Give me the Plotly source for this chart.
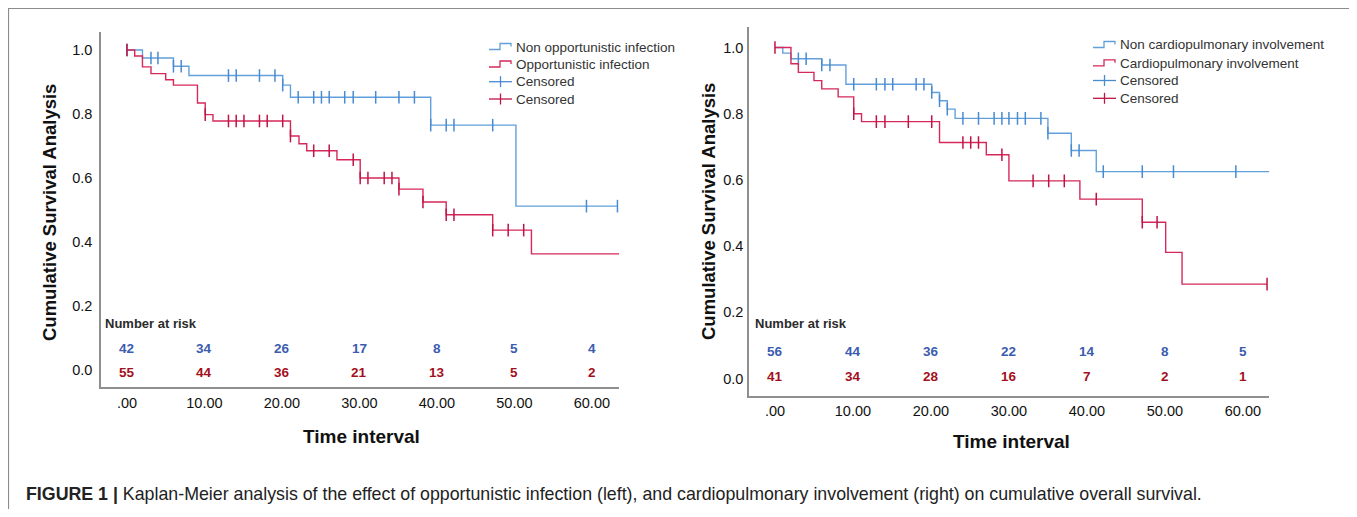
import plotly.graph_objects as go

# The page body adds an 8px offset; the figure is sized to fit the rest of the 1357x517 window.
OFF = 8
W, H = 1357 - OFF, 517 - 2 * OFF

# ---------------- data ----------------
tick_vals = [0, 10, 20, 30, 40, 50, 60]
tick_text = [".00", "10.00", "20.00", "30.00", "40.00", "50.00", "60.00"]
y_tick_vals = [0.0, 0.2, 0.4, 0.6, 0.8, 1.0]
y_tick_text = ["0.0", "0.2", "0.4", "0.6", "0.8", "1.0"]

# Left panel: opportunistic infection
left_non_t = [0, 2.0, 6.0, 8.0, 20.1, 21.1, 39.2, 50.2, 63.3]
left_non_s = [1.0, 0.975, 0.949, 0.92, 0.89, 0.852, 0.765, 0.512, 0.512]
left_non_cens = [0, 3.1, 4.0, 6.0, 7.0, 13.1, 14.1, 17.1, 19.1, 20.1, 22.1, 24.1, 25.1,
                 26.1, 28.1, 29.2, 32.1, 35.1, 37.1, 39.2, 41.2, 42.2, 47.2, 59.3, 63.3]

left_oi_t = [0, 1.0, 2.0, 3.1, 5.0, 6.0, 9.1, 10.1, 11.1, 21.1, 22.2, 23.2, 27.1, 30.1,
             35.1, 38.2, 41.2, 47.2, 52.2, 63.5]
left_oi_s = [1.0, 0.981, 0.947, 0.926, 0.907, 0.89, 0.834, 0.798, 0.778, 0.731, 0.707,
             0.685, 0.657, 0.60, 0.565, 0.525, 0.485, 0.437, 0.363, 0.363]
left_oi_cens = [0, 10.1, 13.1, 14.1, 15.1, 17.1, 18.1, 20.1, 21.1, 24.1, 26.1, 29.2, 30.1,
                31.1, 33.2, 34.2, 35.1, 38.2, 41.2, 42.2, 47.2, 49.2, 51.2]

left_risk_non = [42, 34, 26, 17, 8, 5, 4]
left_risk_oi = [55, 44, 36, 21, 13, 5, 2]

# Right panel: cardiopulmonary involvement
right_non_t = [0, 1.0, 2.05, 6.0, 9.1, 20.1, 21.1, 22.1, 23.1, 35.0, 38.0, 41.2, 63.4]
right_non_s = [1.0, 0.983, 0.966, 0.947, 0.889, 0.864, 0.839, 0.814, 0.786, 0.741, 0.689,
               0.625, 0.625]
right_non_cens = [3.0, 4.0, 6.0, 7.05, 10.1, 13.0, 14.1, 15.1, 18.1, 19.1, 20.1, 21.1, 22.1,
                  24.1, 26.1, 28.1, 29.1, 30.0, 31.1, 32.1, 34.1, 35.0, 38.0, 39.0, 42.1,
                  47.1, 51.1, 59.1]

right_cp_t = [0, 2.05, 3.0, 5.0, 6.0, 8.1, 10.1, 11.1, 21.1, 27.1, 30.0, 39.1, 47.1, 50.1,
              52.2, 63.1]
right_cp_s = [1.0, 0.951, 0.925, 0.90, 0.875, 0.851, 0.80, 0.776, 0.713, 0.676, 0.597,
              0.542, 0.472, 0.381, 0.285, 0.285]
right_cp_cens = [0, 10.1, 13.0, 14.1, 17.1, 20.1, 24.1, 25.1, 26.1, 29.1, 33.1, 35.1, 37.1,
                 41.2, 47.1, 49.0, 63.1]

right_risk_non = [56, 44, 36, 22, 14, 8, 5]
right_risk_cp = [41, 34, 28, 16, 7, 2, 1]

left_legend = ["Non opportunistic infection", "Opportunistic infection", "Censored", "Censored"]
right_legend = ["Non cardiopulmonary involvement", "Cardiopulmonary involvement", "Censored", "Censored"]

# ---------------- style ----------------
BLUE = "#62a0dc"
RED = "#d6285a"
BLUE_CENS = "#4a8ad0"
RED_CENS = "#c01445"
RISK_BLUE = "#3b5caf"
RISK_RED = "#a3101c"
AXIS_COL = "#8f8f8f"
TXT = "#111111"
FONT = "Liberation Sans, Arial, sans-serif"


def px(x):
    return (x - OFF) / W


def py(y):
    return 1 - (y - OFF) / H


def step_at(ts, ss, t):
    val = ss[0]
    for tt, s in zip(ts, ss):
        if t >= tt - 1e-9:
            val = s
    return val


fig = go.Figure()


def add_curve(ts, ss, cens, color, ccolor, xa, ya):
    fig.add_trace(go.Scatter(x=ts, y=ss, mode="lines", line=dict(color=color, width=1.4, shape="hv"),
                             xaxis=xa, yaxis=ya, showlegend=False, hoverinfo="skip"))
    fig.add_trace(go.Scatter(x=cens, y=[step_at(ts, ss, c) for c in cens], mode="markers",
                             marker=dict(symbol="line-ns", size=9, line=dict(color=ccolor, width=1.5)),
                             xaxis=xa, yaxis=ya, showlegend=False, hoverinfo="skip"))


add_curve(left_non_t, left_non_s, left_non_cens, BLUE, BLUE_CENS, "x", "y")
add_curve(left_oi_t, left_oi_s, left_oi_cens, RED, RED_CENS, "x", "y")
add_curve(right_non_t, right_non_s, right_non_cens, BLUE, BLUE_CENS, "x2", "y2")
add_curve(right_cp_t, right_cp_s, right_cp_cens, RED, RED_CENS, "x2", "y2")

# panel geometry (pixels in the window)
L = dict(x0=101, x1=619, y0=32, y1=387)
R = dict(x0=749, x1=1269, y0=27, y1=395.7)


def xax(p, rng, standoff):
    return dict(domain=[px(p["x0"]), px(p["x1"])], range=rng, showline=True, linecolor=AXIS_COL,
                linewidth=1.6, showgrid=False, zeroline=False, tickvals=tick_vals, ticktext=tick_text,
                ticks="outside", ticklen=standoff, tickcolor="rgba(0,0,0,0)",
                tickfont=dict(family=FONT, size=14.5, color=TXT))


def yax(p, rng, standoff):
    return dict(domain=[py(p["y1"]), py(p["y0"])], range=rng, showline=True, linecolor=AXIS_COL,
                linewidth=1.6, showgrid=False, zeroline=False, tickvals=y_tick_vals, ticktext=y_tick_text,
                ticks="outside", ticklen=standoff, tickcolor="rgba(0,0,0,0)",
                tickfont=dict(family=FONT, size=14.5, color=TXT))


fig.update_layout(
    width=W, height=H, margin=dict(l=0, r=0, t=0, b=0),
    paper_bgcolor="white", plot_bgcolor="white", showlegend=False,
    xaxis=dict(xax(L, [-3.35, 63.5], 2), anchor="y"),
    yaxis=dict(yax(L, [-0.053, 1.056], 4), anchor="x"),
    xaxis2=dict(xax(R, [-3.33, 63.35], 1), anchor="y2"),
    yaxis2=dict(yax(R, [-0.052, 1.062], 1), anchor="x2"),
)

annotations = []
shapes = []

# outer border
shapes.append(dict(type="rect", xref="paper", yref="paper", x0=px(8.5), x1=px(1353.5), y0=py(540), y1=py(8.5),
                   line=dict(color="#8c8c8c", width=1.2)))

# axis titles
for cx, cy in [(50, 213), (708, 212)]:
    annotations.append(dict(text="<b>Cumulative Survival Analysis</b>", xref="paper", yref="paper",
                            x=px(cx), y=py(cy), showarrow=False, textangle=-90,
                            font=dict(family=FONT, size=18.5, color=TXT), xanchor="center", yanchor="middle"))
for cx, cy in [(361, 436), (1011, 441)]:
    annotations.append(dict(text="<b>Time interval</b>", xref="paper", yref="paper",
                            x=px(cx), y=py(cy), showarrow=False,
                            font=dict(family=FONT, size=19, color=TXT), xanchor="center", yanchor="middle"))

# number at risk
for xr, x0, ys, rows in [("x", 103, (323, 348, 372), (left_risk_non, left_risk_oi)),
                         ("x2", 753, (323, 351.7, 376.7), (right_risk_non, right_risk_cp))]:
    annotations.append(dict(text="<b>Number at risk</b>", xref="paper", yref="paper", x=px(x0), y=py(ys[0]),
                            showarrow=False, xanchor="left", yanchor="middle",
                            font=dict(family=FONT, size=13, color="#2b2b2b")))
    for vals, yy, col in [(rows[0], ys[1], RISK_BLUE), (rows[1], ys[2], RISK_RED)]:
        for t, v in zip(tick_vals, vals):
            annotations.append(dict(text="<b>%d</b>" % v, xref=xr, yref="paper", x=t, y=py(yy),
                                    showarrow=False, xanchor="center", yanchor="middle",
                                    font=dict(family=FONT, size=13.5, color=col)))


# custom legends
def legend(sx, ys, labels):
    cols = [BLUE, RED, BLUE_CENS, RED_CENS]
    for i, (yy, lab) in enumerate(zip(ys, labels)):
        c = cols[i]
        if i < 2:
            path = "M %f %f L %f %f L %f %f L %f %f L %f %f" % (
                px(sx), py(yy + 2.5), px(sx + 11), py(yy + 2.5), px(sx + 11), py(yy - 3.5),
                px(sx + 22), py(yy - 3.5), px(sx + 22), py(yy - 0.5))
            shapes.append(dict(type="path", xref="paper", yref="paper", path=path,
                               line=dict(color=c, width=1.3)))
        else:
            shapes.append(dict(type="line", xref="paper", yref="paper", x0=px(sx), x1=px(sx + 23),
                               y0=py(yy), y1=py(yy), line=dict(color=c, width=1.3)))
            shapes.append(dict(type="line", xref="paper", yref="paper", x0=px(sx + 11.5), x1=px(sx + 11.5),
                               y0=py(yy - 5.5), y1=py(yy + 5.5), line=dict(color=c, width=1.3)))
        annotations.append(dict(text=lab, xref="paper", yref="paper", x=px(sx + 25), y=py(yy),
                                showarrow=False, xanchor="left", yanchor="middle",
                                font=dict(family=FONT, size=13.5, color="#333333")))


legend(489, [47, 64.5, 81.7, 99], left_legend)
legend(1093, [45, 63.3, 80.5, 98.3], right_legend)

# caption
annotations.append(dict(
    text="<b>FIGURE 1 |</b> Kaplan-Meier analysis of the effect of opportunistic infection (left), "
         "and cardiopulmonary involvement (right) on cumulative overall survival.",
    xref="paper", yref="paper", x=px(24), y=py(494), showarrow=False, xanchor="left", yanchor="middle",
    font=dict(family=FONT, size=17.8, color="#222222")))

fig.update_layout(annotations=annotations, shapes=shapes)
fig.write_html("out.html")
